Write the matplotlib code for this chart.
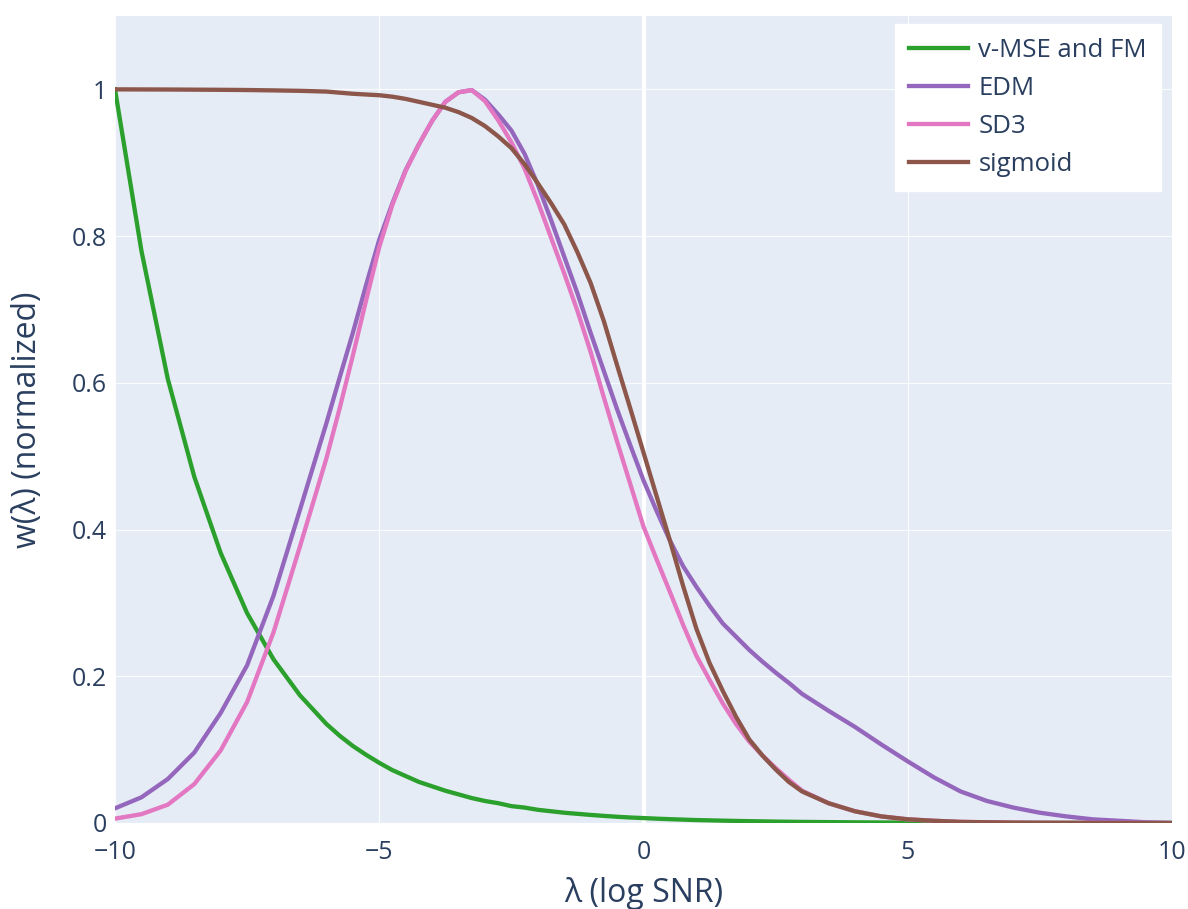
import numpy as np
import matplotlib.pyplot as plt

# log-SNR grid: coarse on the tails, finer through the peak region
lam = np.concatenate([np.arange(-10, -6, 0.5),
                      np.arange(-6, 3, 0.25),
                      np.arange(3, 10.01, 0.5)])

# values
w_vmse = [1.0, 0.78, 0.605, 0.472, 0.368, 0.286, 0.223, 0.174,
          0.135, 0.119, 0.105, 0.093, 0.082, 0.072, 0.064, 0.056, 0.050, 0.044,
          0.039, 0.034, 0.030, 0.027, 0.023, 0.021, 0.018, 0.016, 0.014, 0.0125,
          0.011, 0.0097, 0.0085, 0.0075, 0.0067, 0.0059, 0.0052, 0.0046, 0.0040, 0.0036,
          0.0032, 0.0028, 0.0025, 0.0022, 0.0019, 0.0017,
          0.0015, 0.0012, 0.0009, 0.0007, 0.0006, 0.0004, 0.0003, 0.00027,
          0.0002, 0.00016, 0.00012, 0.0001, 0.00007, 0.00005, 0.00004]
w_edm = [0.020, 0.035, 0.060, 0.096, 0.150, 0.215, 0.310, 0.427,
         0.545, 0.607, 0.668, 0.733, 0.795, 0.845, 0.890, 0.925, 0.957, 0.983,
         0.996, 0.999, 0.986, 0.966, 0.944, 0.912, 0.870, 0.822, 0.772, 0.722,
         0.668, 0.616, 0.564, 0.515, 0.467, 0.425, 0.385, 0.350, 0.322, 0.296,
         0.272, 0.254, 0.236, 0.220, 0.205, 0.191,
         0.176, 0.153, 0.131, 0.107, 0.084, 0.062, 0.043, 0.030,
         0.021, 0.014, 0.009, 0.005, 0.003, 0.001, 0.0]
w_sd3 = [0.006, 0.012, 0.025, 0.053, 0.099, 0.165, 0.260, 0.377,
         0.497, 0.565, 0.637, 0.712, 0.785, 0.843, 0.889, 0.925, 0.957, 0.983,
         0.996, 0.999, 0.984, 0.958, 0.928, 0.892, 0.847, 0.798, 0.749, 0.698,
         0.642, 0.580, 0.520, 0.462, 0.404, 0.359, 0.315, 0.270, 0.228, 0.195,
         0.163, 0.135, 0.111, 0.092, 0.075, 0.059,
         0.044, 0.027, 0.016, 0.009, 0.005, 0.003, 0.0015, 0.001,
         0.0005, 0.0003, 0.0002, 0.0001, 0.00005, 0.00003, 0.0]
w_sigmoid = [1.0, 0.9999, 0.9998, 0.9996, 0.9994, 0.9991, 0.9986, 0.998,
             0.997, 0.9955, 0.994, 0.993, 0.992, 0.990, 0.987, 0.983, 0.979, 0.975,
             0.969, 0.961, 0.950, 0.936, 0.920, 0.898, 0.872, 0.845, 0.816, 0.778,
             0.736, 0.684, 0.624, 0.565, 0.505, 0.445, 0.385, 0.323, 0.265, 0.218,
             0.180, 0.145, 0.114, 0.092, 0.073, 0.056,
             0.043, 0.027, 0.016, 0.009, 0.005, 0.003, 0.0015, 0.001,
             0.0005, 0.0003, 0.0002, 0.0001, 0.00005, 0.00003, 0.0]

names = ["v-MSE and FM", "EDM", "SD3", "sigmoid"]
colors = ["#2ca02c", "#9467bd", "#e377c2", "#8c564b"]

plt.rcParams['font.family'] = ['Open Sans', 'DejaVu Sans']
txt = "#2a3f5f"

fig = plt.figure(figsize=(11.88, 9.09), dpi=100)
ax = fig.add_axes([115/1188, 86/909, 1057/1188, 807/909])
ax.set_facecolor("#E5ECF6")
for s in ax.spines.values():
    s.set_visible(False)

for y, name, c in zip([w_vmse, w_edm, w_sd3, w_sigmoid], names, colors):
    ax.plot(lam, y, color=c, lw=3.1, label=name, solid_joinstyle='round')

ax.set_xlim(-10, 10)
ax.set_ylim(0, 1.1)
ax.set_xticks([-10, -5, 0, 5, 10])
ax.set_yticks([0, 0.2, 0.4, 0.6, 0.8, 1.0])
ax.set_yticklabels(["0", "0.2", "0.4", "0.6", "0.8", "1"])
ax.grid(True, color="white", lw=0.9, alpha=0.8)
ax.set_axisbelow(True)
ax.axvline(0, color="white", lw=3, zorder=1)
ax.tick_params(length=0, labelsize=18, colors=txt)
ax.tick_params(axis='x', pad=12)
ax.tick_params(axis='y', pad=6)

ax.set_xlabel("λ (log SNR)", fontsize=23, color=txt, labelpad=9)
ax.set_ylabel("w(λ) (normalized)", fontsize=23, color=txt, labelpad=20)

leg = ax.legend(loc="upper right", bbox_to_anchor=(0.9896, 0.990), borderaxespad=0,
                fontsize=18.5, frameon=True, fancybox=False, handlelength=2.3,
                handletextpad=0.4, labelspacing=0.5, borderpad=0.55)
leg.get_frame().set_facecolor("white")
leg.get_frame().set_edgecolor("white")
leg.get_frame().set_alpha(1)
for t in leg.get_texts():
    t.set_color(txt)

fig.savefig("out.png", dpi=100)
